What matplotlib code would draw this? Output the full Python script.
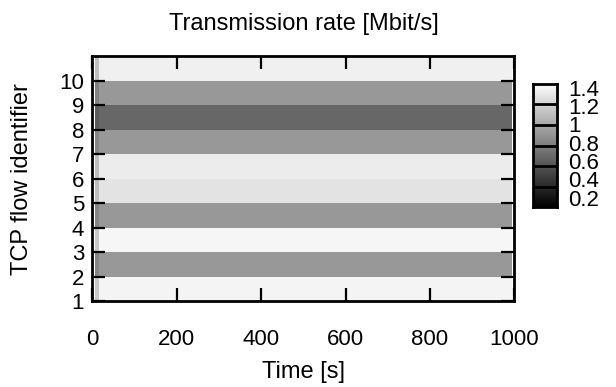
import numpy as np
import matplotlib
matplotlib.use("Agg")
import matplotlib.pyplot as plt

plt.rcParams['font.family'] = ['Liberation Sans', 'DejaVu Sans']
plt.rcParams['font.size'] = 16

# Flow identifiers and sampling instants
flows = [1, 2, 3, 4, 5, 6, 7, 8, 9, 10]
times = np.arange(10, 1000, 10)          # one sample every 10 s

# Rate of each flow during the first interval (slow start) [Mbit/s]
startup_rate = [1.15, 0.80, 1.15, 0.80, 1.10, 1.10, 0.80, 0.58, 0.78, 1.10]
# Steady-state rate of each flow [Mbit/s]
steady_rate = [1.38, 0.90, 1.39, 0.90, 1.29, 1.34, 0.90, 0.64, 0.90, 1.36]

cb_min, cb_max = 0.1, 1.44
cb_ticks = [0.2, 0.4, 0.6, 0.8, 1.0, 1.2, 1.4]
cb_labels = ['0.2', '0.4', '0.6', '0.8', '1', '1.2', '1.4']
x_ticks = [0, 200, 400, 600, 800, 1000]

rates = np.tile(np.array(steady_rate)[:, None], (1, len(times)))
rates[:, 0] = startup_rate

t_edges = np.concatenate([times - 5, [times[-1] + 5]])
f_edges = np.arange(flows[0], flows[-1] + 2)

fig = plt.figure(figsize=(6.16, 3.87), dpi=100)
ax = fig.add_axes([0.150, 0.222, 0.685, 0.633])
ax.pcolormesh(t_edges, f_edges, rates, cmap='gray', vmin=cb_min, vmax=cb_max,
              shading='flat')
ax.set_xlim(0, 1000)
ax.set_ylim(1, 11)
ax.set_xticks(x_ticks)
ax.set_yticks(flows)
for s in ax.spines.values():
    s.set_linewidth(2.0)
ax.tick_params(direction='in', length=9.5, width=1.6, top=True, right=True,
               labelsize=16)
ax.tick_params(axis='x', pad=20)
ax.tick_params(axis='y', pad=6)
ax.set_xlabel('Time [s]', fontsize=17, labelpad=8)
ax.set_ylabel('TCP flow identifier', fontsize=17, labelpad=19)
ax.set_title('Transmission rate [Mbit/s]', fontsize=17, pad=19)

# Colour key: grey ramp split into six framed boxes
cax = fig.add_axes([0.866, 0.465, 0.038, 0.318])
grad = np.linspace(cb_min, cb_max, 256)[:, None]
cax.imshow(grad, aspect='auto', cmap='gray', vmin=cb_min, vmax=cb_max,
           origin='lower', extent=[0, 1, cb_min, cb_max])
for k in range(1, 6):
    cax.axhline(cb_min + k * (cb_max - cb_min) / 6, color='black', lw=2.0)
cax.set_xlim(0, 1)
cax.set_ylim(cb_min, cb_max)
cax.set_xticks([])
cax.set_yticks(cb_ticks)
cax.set_yticklabels(cb_labels)
cax.yaxis.tick_right()
cax.tick_params(axis='y', length=0, pad=8, labelsize=16)
for s in cax.spines.values():
    s.set_linewidth(2.0)

fig.savefig('out.png', dpi=100)
